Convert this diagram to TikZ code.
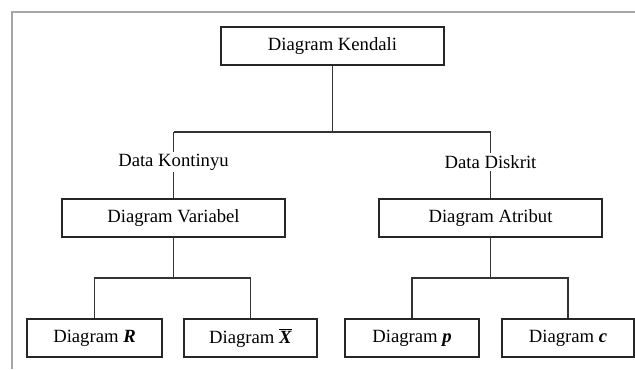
\documentclass[tikz,border=0pt]{standalone}
\usepackage{fontspec}
\setmainfont{Liberation Serif}
\begin{document}
\begin{tikzpicture}[x=0.75pt,y=-0.75pt,
  box/.style={draw=black!85,line width=0.9pt,minimum height=28.5pt,inner sep=0pt,font=\fontsize{14}{16}\selectfont},
  lbl/.style={fill=white,inner sep=1.5pt,font=\fontsize{14}{16}\selectfont},
  link/.style={draw=black!80,line width=0.9pt}]
\useasboundingbox (0,0) rectangle (635,369);
% open frame around the chart
\draw[gray!70,line width=1pt] (12,369) -- (12,12) -- (635,12);
% boxes
\node[box,minimum width=167.25pt] (kendali) at (332.5,46) {Diagram Kendali};
\node[box,minimum width=167.25pt] (variabel) at (173.5,218) {Diagram Variabel};
\node[box,minimum width=167.25pt] (atribut) at (490.5,218) {Diagram Atribut};
\node[box,minimum width=101.25pt] (dr) at (94.5,338) {Diagram \textbf{\textit{R}}};
\node[box,minimum width=99.75pt] (dx) at (250.5,338) {Diagram $\overline{\mbox{\textbf{\textit{X}}}}$};
\node[box,minimum width=100.5pt] (dp) at (412,338) {Diagram \textbf{\textit{p}}};
\node[box,minimum width=99pt] (dc) at (568,338) {Diagram \textbf{\textit{c}}};
% branch points
\coordinate (top) at (332.5,132);
\coordinate (tl) at (173.5,132);
\coordinate (tr) at (490.5,132);
\coordinate (vl) at (173.5,278);
\coordinate (vr) at (490.5,278);
% connectors
\draw[link] (kendali.south) -- (top);
\draw[link] (tl) -- (tr);
\draw[link] (tl) -- (variabel.north);
\draw[link] (tr) -- (atribut.north);
\node[lbl] (kontinyu) at (173.5,162) {Data Kontinyu};
\node[lbl] (diskrit) at (490.5,162) {Data Diskrit};
\draw[link] (variabel.south) -- (vl);
\draw[link] (dr.north) |- (vl) -| (dx.north);
\draw[link] (atribut.south) -- (vr);
\draw[link] (dp.north) |- (vr) -| (dc.north);
\end{tikzpicture}
\end{document}
